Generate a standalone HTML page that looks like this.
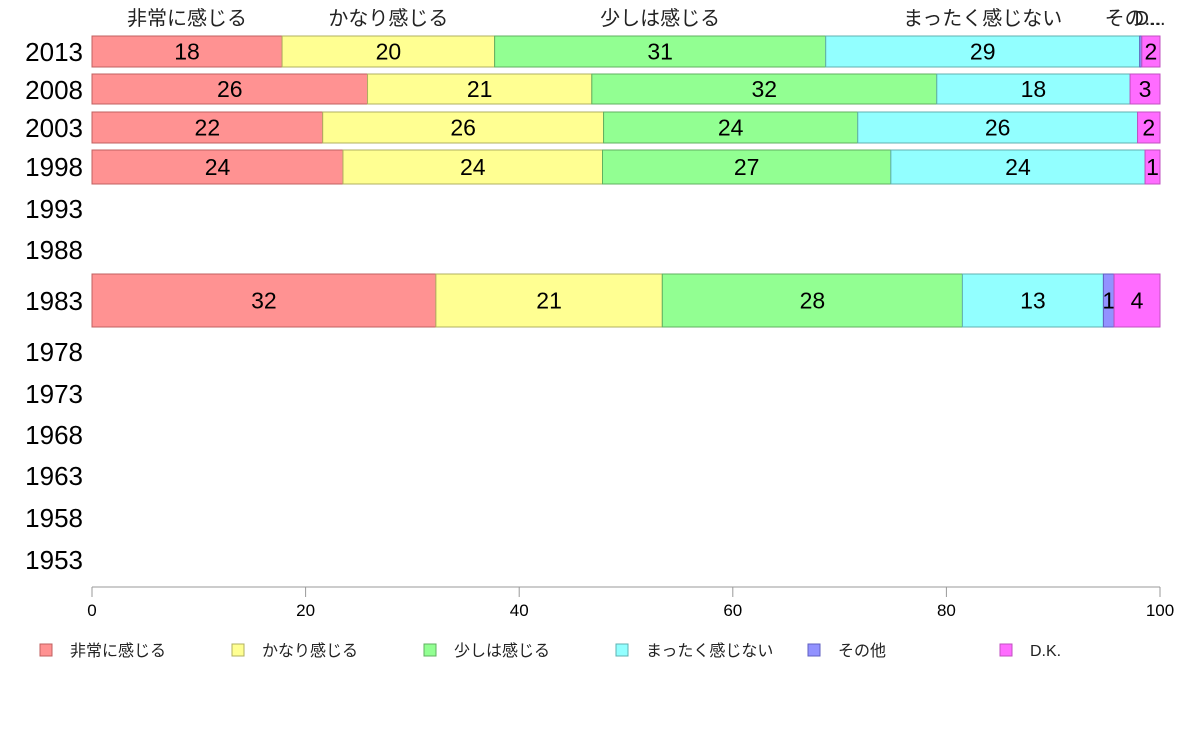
<!DOCTYPE html>
<html><head><meta charset="utf-8"><style>
body{margin:0;background:#fff;}
svg text{font-family:"Liberation Sans","Noto Sans CJK JP",sans-serif;}
</style></head><body>
<svg id="chart" width="1188" height="736" xmlns="http://www.w3.org/2000/svg"></svg>
<script>
const years=["2013","2008","2003","1998","1993","1988","1983","1978","1973","1968","1963","1958","1953"];
const seriesNames=["非常に感じる","かなり感じる","少しは感じる","まったく感じない","その他","D.K."];
const s1=[17.8,25.8,21.6,23.5,null,null,32.2,null,null,null,null,null,null];
const s2=[19.9,21.0,26.3,24.3,null,null,21.2,null,null,null,null,null,null];
const s3=[31.0,32.3,23.8,27.0,null,null,28.1,null,null,null,null,null,null];
const s4=[29.4,18.1,26.2,23.8,null,null,13.2,null,null,null,null,null,null];
const s5=[0.2,0,0,0,null,null,1.0,null,null,null,null,null,null];
const s6=[1.7,2.8,2.1,1.4,null,null,4.3,null,null,null,null,null,null];
const xTicks=[0,20,40,60,80,100];
const colors=["#ff9292","#ffff92","#92ff92","#92ffff","#9292ff","#ff6cff"];
const strokes=["#c06060","#b0b060","#60b060","#60b0b0","#6060c0","#c050c0"];
const series=[s1,s2,s3,s4,s5,s6];
// layout per row: label y, bar top, bar bottom
const rowY=[52,90,128,167,209,250,301,352,394,435,476,518,560];
const rowTop=[36,74,112,150,0,0,274];
const rowBot=[67,104,143,184,0,0,327];
const X0=92,X1=1160;
const sx=v=>X0+(X1-X0)*v/100;
const svg=document.getElementById('chart');
const NS="http://www.w3.org/2000/svg";
function mk(tag,attrs,text){const e=document.createElementNS(NS,tag);for(const k in attrs)e.setAttribute(k,attrs[k]);if(text!==undefined)e.textContent=text;svg.appendChild(e);return e;}
years.forEach((y,i)=>{
  const t=mk('text',{x:83,y:rowY[i]+9,'text-anchor':'end','font-size':26,fill:'#000'},y);
  
  
  if(s1[i]==null)return;
  let acc=0;
  series.forEach((s,k)=>{
    const v=s[i];const xa=sx(acc),xb=sx(acc+v);acc+=v;
    if(v<=0)return;
    const r=mk('rect',{x:xa,y:rowTop[i],width:xb-xa,height:rowBot[i]-rowTop[i],fill:colors[k],stroke:strokes[k],'stroke-width':1});
    
    
    if(v>=0.8){
      const lt=mk('text',{x:(xa+xb)/2,y:(rowTop[i]+rowBot[i])/2+8,'text-anchor':'middle','font-size':23,fill:'#000'},String(Math.round(v)));
      
      
    }
  });
});
// header labels over first row
let acc=0;
const hdr=["非常に感じる","かなり感じる","少しは感じる","まったく感じない","その...","D..."];
series.forEach((s,k)=>{
  const v=s[0];const c=sx(acc+v/2);acc+=v;
  let cx=c; if(k===4)cx=1133; if(k===5)cx=1150;
  const t=mk('text',{x:cx,y:25,'text-anchor':'middle','font-size':20,fill:'#222'},hdr[k]);
  
  
});
// x axis
const ax=mk('line',{x1:X0,x2:X1,y1:587,y2:587,stroke:'#999','stroke-width':1});


xTicks.forEach(v=>{
  const tk=mk('line',{x1:sx(v),x2:sx(v),y1:587,y2:597,stroke:'#999'});
  
  
  const tl=mk('text',{x:sx(v),y:616,'text-anchor':'middle','font-size':17,fill:'#000'},String(v));
  
  
});
// legend
seriesNames.forEach((n,k)=>{
  const lx=40+192*k;
  const b=mk('rect',{x:lx,y:644,width:12,height:12,fill:colors[k],stroke:strokes[k]});
  
  
  const t=mk('text',{x:lx+30,y:656,'font-size':16,fill:'#222'},n);
  
  
});
</script>
</body></html>
